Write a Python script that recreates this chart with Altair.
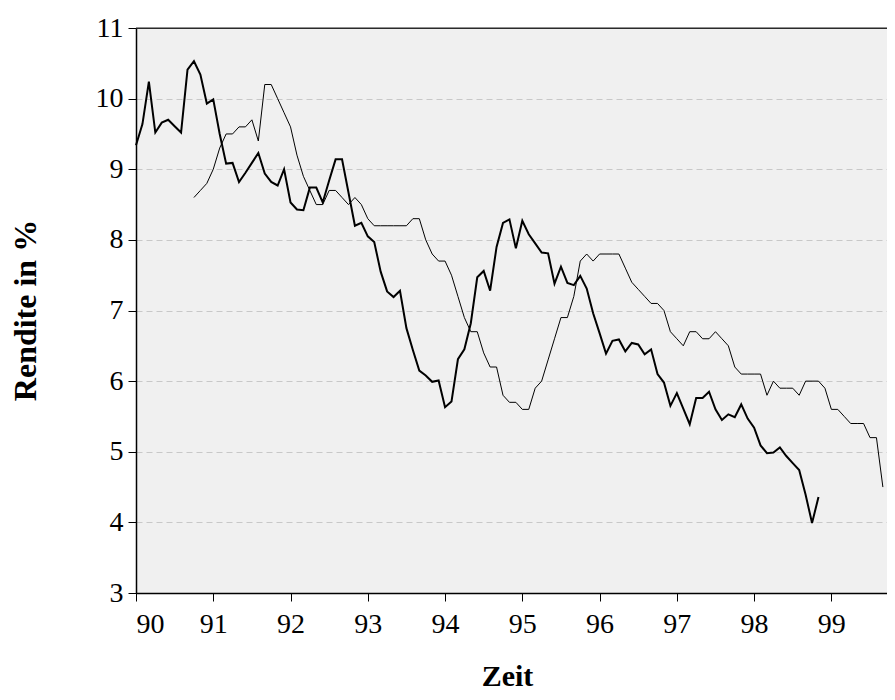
import altair as alt
import pandas as pd

# Monthly data; thick series starts Jan 1990, thin series starts Oct 1990
thick_start_month = 0
thick_values = [
    9.34, 9.64, 10.24, 9.52, 9.66, 9.70, 9.61, 9.52, 10.41, 10.53, 10.34, 9.93,
    9.99, 9.50, 9.08, 9.09, 8.82, 8.95, 9.09, 9.23, 8.94, 8.82, 8.77, 9.00,
    8.53, 8.43, 8.42, 8.74, 8.74, 8.53, 8.84, 9.14, 9.14, 8.67, 8.20, 8.24,
    8.05, 7.97, 7.55, 7.27, 7.19, 7.28, 6.75, 6.44, 6.15, 6.08, 5.99, 6.01,
    5.63, 5.71, 6.31, 6.45, 6.82, 7.47, 7.56, 7.28, 7.90, 8.24, 8.29, 7.88,
    8.27, 8.08, 7.95, 7.82, 7.81, 7.38, 7.62, 7.39, 7.36, 7.49, 7.31, 6.96,
    6.68, 6.39, 6.57, 6.59, 6.42, 6.54, 6.52, 6.38, 6.45, 6.10, 5.98, 5.65,
    5.83, 5.61, 5.39, 5.76, 5.76, 5.85, 5.60, 5.45, 5.53, 5.49, 5.67, 5.47,
    5.34, 5.09, 4.98, 4.99, 5.06, 4.94, 4.84, 4.74, 4.39, 3.99, 4.36,
]

thin_start_month = 9
thin_values = [
    8.6, 8.7, 8.8,
    9.0, 9.3, 9.5, 9.5, 9.6, 9.6, 9.7, 9.4, 10.2, 10.2, 10.0, 9.8,
    9.6, 9.2, 8.9, 8.7, 8.5, 8.5, 8.7, 8.7, 8.6, 8.5, 8.6, 8.5,
    8.3, 8.2, 8.2, 8.2, 8.2, 8.2, 8.2, 8.3, 8.3, 8.0, 7.8, 7.7,
    7.7, 7.5, 7.2, 6.9, 6.7, 6.7, 6.4, 6.2, 6.2, 5.8, 5.7, 5.7,
    5.6, 5.6, 5.9, 6.0, 6.3, 6.6, 6.9, 6.9, 7.2, 7.7, 7.8, 7.7,
    7.8, 7.8, 7.8, 7.8, 7.6, 7.4, 7.3, 7.2, 7.1, 7.1, 7.0, 6.7,
    6.6, 6.5, 6.7, 6.7, 6.6, 6.6, 6.7, 6.6, 6.5, 6.2, 6.1, 6.1,
    6.1, 6.1, 5.8, 6.0, 5.9, 5.9, 5.9, 5.8, 6.0, 6.0, 6.0, 5.9,
    5.6, 5.6, 5.5, 5.4, 5.4, 5.4, 5.2, 5.2, 4.5,
]

x_ticks = [90, 91, 92, 93, 94, 95, 96, 97, 98, 99]
y_ticks = [3, 4, 5, 6, 7, 8, 9, 10, 11]
start_year = 90

df_thick = pd.DataFrame({
    "t": [start_year + (thick_start_month + i) / 12 for i in range(len(thick_values))],
    "v": thick_values,
})
df_thin = pd.DataFrame({
    "t": [start_year + (thin_start_month + i) / 12 for i in range(len(thin_values))],
    "v": thin_values,
})

FONT = "Liberation Serif"

x_enc = alt.X(
    "t:Q",
    scale=alt.Scale(domain=[90, 99.72], nice=False, zero=False),
    axis=alt.Axis(
        values=x_ticks, format="d", grid=False, title="Zeit",
        tickSize=8, labelPadding=31, labelBaseline="alphabetic",
        titleX=371, titleY=92, titleBaseline="alphabetic",
        titleAlign="center", titleFontSize=30,
    ),
)
y_enc = alt.Y(
    "v:Q",
    scale=alt.Scale(domain=[3, 11], nice=False, zero=False),
    axis=alt.Axis(
        values=y_ticks, format="d", grid=True, title="Rendite in %",
        tickSize=8, labelPadding=5,
        titleX=-111, titleY=282, titleBaseline="middle", titleAngle=270,
        titleAlign="center", titleFontSize=32,
        gridOpacity={"condition": {"test": "datum.value == 11 || datum.value == 3", "value": 0}, "value": 1},
    ),
)

thin = alt.Chart(df_thin).mark_line(color="black", strokeWidth=1).encode(x=x_enc, y=y_enc)
thick = alt.Chart(df_thick).mark_line(color="black", strokeWidth=2).encode(x=x_enc, y=y_enc)
top_border = (
    alt.Chart(pd.DataFrame({"k": [0]}))
    .mark_rule(color="#222222", strokeWidth=1.2)
    .encode(y=alt.value(0))
)

chart = (
    alt.layer(thin, thick, top_border)
    .properties(
        width=751, height=565,
        padding={"left": 128, "top": 20, "right": 0, "bottom": 99},
        autosize=alt.AutoSizeParams(type="none"),
        background="white",
    )
    .configure_view(fill="#f0f0f0", stroke="#333333", strokeWidth=1)
    .configure_axis(
        domainColor="black", domainWidth=1.5, tickColor="black", tickWidth=1,
        labelFont=FONT, labelFontSize=28, labelColor="black",
        titleFont=FONT, titleFontWeight="bold", titleColor="black",
        gridColor="#c8c8c8", gridDash=[6, 4], gridWidth=1,
    )
)

chart.save("out.html", embed_options={"renderer": "svg", "actions": False})
